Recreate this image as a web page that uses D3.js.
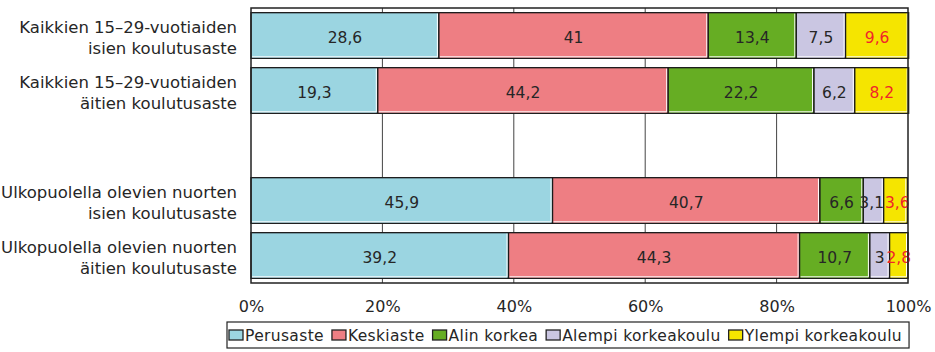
<!DOCTYPE html>
<html>
<head>
<meta charset="utf-8">
<script src="https://cdn.jsdelivr.net/npm/d3@7"></script>
<style>
  body { margin: 0; background: #fff; }
  svg { display: block; font-family: 'DejaVu Sans', sans-serif; }
</style>
</head>
<body>
<svg width="935" height="352"></svg>
<script>
const svg = d3.select('svg');
const MARGIN = { TOP: 8, RIGHT: 27, BOTTOM: 69, LEFT: 251 };
const WIDTH = +svg.attr('width') - MARGIN.LEFT - MARGIN.RIGHT;
const HEIGHT = +svg.attr('height') - MARGIN.TOP - MARGIN.BOTTOM;

// categories (top to bottom), null = empty slot
const categories = [
  ['Kaikkien 15–29-vuotiaiden', 'isien koulutusaste'],
  ['Kaikkien 15–29-vuotiaiden', 'äitien koulutusaste'],
  null,
  ['Ulkopuolella olevien nuorten', 'isien koulutusaste'],
  ['Ulkopuolella olevien nuorten', 'äitien koulutusaste']
];
const keys = ['Perusaste', 'Keskiaste', 'Alin korkea', 'Alempi korkeakoulu', 'Ylempi korkeakoulu'];
const perusaste = [28.6, 19.3, null, 45.9, 39.2];
const keskiaste = [41, 44.2, null, 40.7, 44.3];
const alinKorkea = [13.4, 22.2, null, 6.6, 10.7];
const alempiKk = [7.5, 6.2, null, 3.1, 3];
const ylempiKk = [9.6, 8.2, null, 3.6, 2.8];
const xTicks = [0, 20, 40, 60, 80, 100];

const colors = ['#9bd5e1', '#ee7e83', '#66ad23', '#cac6e2', '#f5e500'];
const textColors = ['#262626', '#262626', '#262626', '#262626', '#f0262a'];

const series = [perusaste, keskiaste, alinKorkea, alempiKk, ylempiKk];
const data = categories.map((c, i) => {
  const row = { idx: i, label: c };
  keys.forEach((k, j) => { row[k] = series[j][i] || 0; });
  return row;
});
const rows = data.filter(d => d.label);

const g = svg.append('g')
  .attr('transform', `translate(${MARGIN.LEFT}, ${MARGIN.TOP})`);

const x = d3.scaleLinear().domain([0, 100]).range([0, WIDTH]);
const y = d3.scaleBand().domain(d3.range(categories.length)).range([0, HEIGHT]).paddingInner(0.17).paddingOuter(0.085);
const z = d3.scaleOrdinal().domain(keys).range(colors);

// gridlines
g.append('g')
  .selectAll('line')
  .data(xTicks.slice(1, -1))
  .enter().append('line')
  .attr('x1', d => x(d)).attr('x2', d => x(d))
  .attr('y1', 0).attr('y2', HEIGHT)
  .attr('stroke', '#444').attr('stroke-width', 1);

const stacked = d3.stack().keys(keys)(rows);

const layer = g.selectAll('.layer')
  .data(stacked)
  .enter().append('g')
  .attr('class', 'layer');

layer.selectAll('rect')
  .data(d => d.map(v => Object.assign(v, { key: d.key })))
  .enter().append('rect')
  .attr('x', d => x(d[0]))
  .attr('y', d => y(d.data.idx))
  .attr('width', d => x(d[1]) - x(d[0]))
  .attr('height', y.bandwidth())
  .attr('fill', d => z(d.key))
  .attr('stroke', '#1a1a1a')
  .attr('stroke-width', 1.3);

// white inner edge (right + bottom) like the original
layer.selectAll('path')
  .data(d => d)
  .enter().append('path')
  .attr('d', d => {
    const x0 = x(d[0]) + 1, x1 = x(d[1]) - 1.5;
    const y0 = y(d.data.idx) + 1, y1 = y(d.data.idx) + y.bandwidth() - 1.5;
    return `M${x1},${y0}V${y1}H${x0}`;
  })
  .attr('fill', 'none')
  .attr('stroke', '#fff')
  .attr('stroke-width', 1);

// value labels on top of all bars
const labels = g.append('g');
stacked.forEach((s, si) => {
  labels.selectAll(null)
    .data(s)
    .enter().append('text')
    .attr('class', 'val row' + 'r')
    .attr('data-row', d => d.data.idx)
    .attr('x', d => (x(d[0]) + x(d[1])) / 2)
    .attr('y', d => y(d.data.idx) + y.bandwidth() / 2 + 7)
    .attr('text-anchor', 'middle')
    .style('font-size', '15.5px')
    .attr('fill', textColors[si])
    .text(d => String(d.data[s.key]).replace('.', ','));
});

// push apart labels that collide inside a row (narrow segments)
rows.forEach(r => {
  const ts = labels.selectAll('text').filter(function () { return +this.getAttribute('data-row') === r.idx; }).nodes();
  for (let i = 1; i < ts.length; i++) {
    const a = ts[i - 1].getBBox(), b = ts[i].getBBox();
    const o = a.x + a.width + 1 - b.x;
    if (o > 0) {
      ts[i - 1].setAttribute('x', +ts[i - 1].getAttribute('x') - o / 2);
      ts[i].setAttribute('x', +ts[i].getAttribute('x') + o / 2);
    }
  }
});

// frame
g.append('rect')
  .attr('width', WIDTH).attr('height', HEIGHT)
  .attr('fill', 'none').attr('stroke', '#222').attr('stroke-width', 1.5);

// category labels
const cat = g.append('g').selectAll('text')
  .data(rows)
  .enter().append('text')
  .attr('text-anchor', 'end')
  .style('font-size', '16.5px')
  .attr('fill', '#262626');
cat.append('tspan').attr('x', -14).attr('y', d => y(d.idx) + y.bandwidth() / 2 - 2.5).text(d => d.label[0]);
cat.append('tspan').attr('x', -14).attr('y', d => y(d.idx) + y.bandwidth() / 2 + 18.5).text(d => d.label[1]);

// x axis
const xAxis = g.append('g')
  .attr('transform', `translate(0, ${HEIGHT})`)
  .call(d3.axisBottom(x).tickValues(xTicks).tickFormat(d => d + '%').tickSize(0).tickPadding(18));
xAxis.select('.domain').remove();
xAxis.selectAll('text')
  .style('font-size', '16px')
  .style('font-family', "'DejaVu Sans', sans-serif")
  .attr('fill', '#262626');

// legend
const legend = svg.append('g').attr('transform', 'translate(227, 322)');
const legendBox = legend.append('rect')
  .attr('height', 26)
  .attr('fill', '#fff').attr('stroke', '#222').attr('stroke-width', 1.2);
let lx = 2;
keys.forEach((k, i) => {
  const item = legend.append('g').attr('transform', `translate(${lx}, 0)`);
  item.append('rect')
    .attr('x', 0).attr('y', 8).attr('width', 14).attr('height', 10)
    .attr('fill', colors[i]).attr('stroke', '#222').attr('stroke-width', 1.3);
  const t = item.append('text')
    .attr('x', 16).attr('y', 19)
    .style('font-size', '15.5px')
    .style('letter-spacing', '0.35px')
    .attr('fill', '#262626')
    .text(k);
  lx += 16 + t.node().getComputedTextLength() + 8;
});
legendBox.attr('width', lx - 1);
</script>
</body>
</html>
